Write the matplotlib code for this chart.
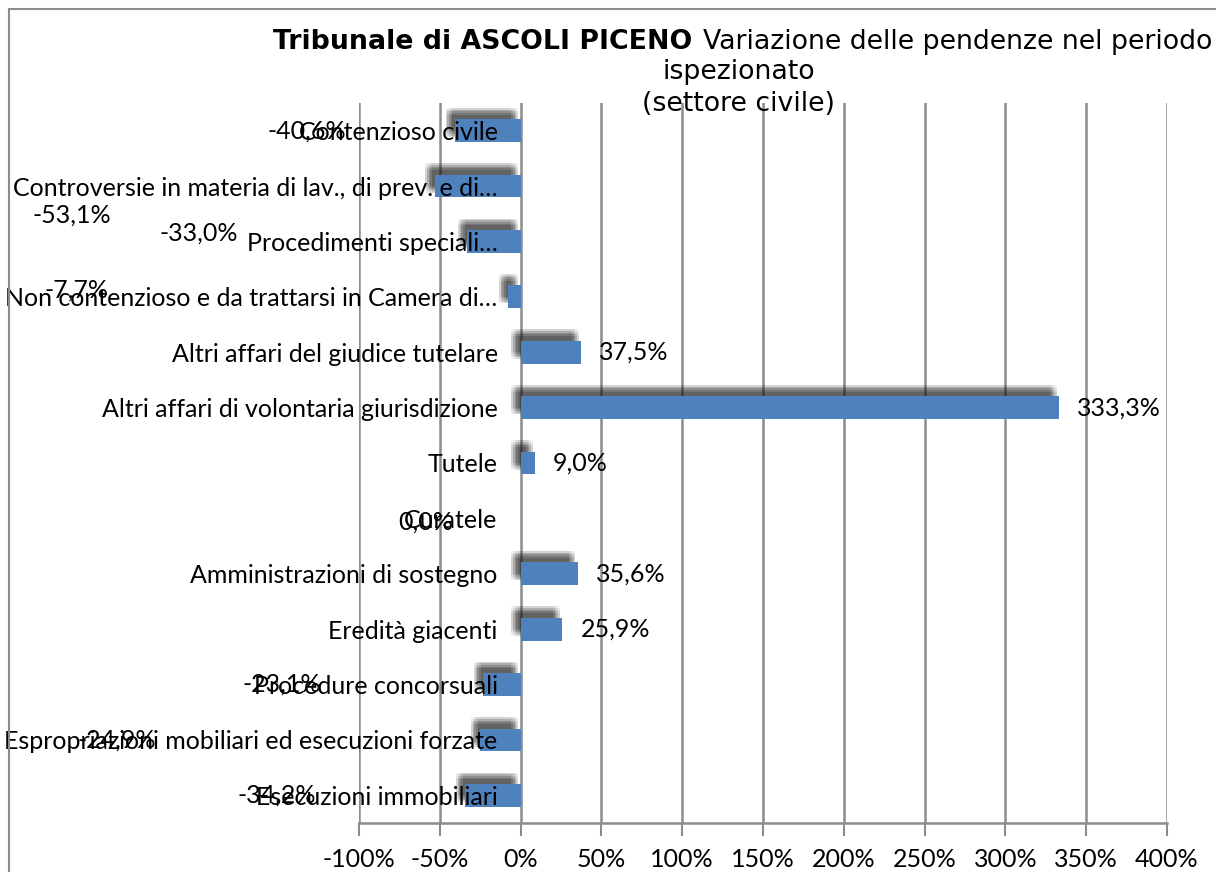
import matplotlib
matplotlib.use("Agg")
from matplotlib import pyplot as plt
from matplotlib import patheffects as pe
from matplotlib.patches import Rectangle
import numpy as np

# data
categories = [
    "Contenzioso civile",
    "Controversie in materia di lav., di prev. e di\u2026",
    "Procedimenti speciali\u2026",
    "Non contenzioso e da trattarsi in Camera di\u2026",
    "Altri affari del giudice tutelare",
    "Altri affari di volontaria giurisdizione",
    "Tutele",
    "Curatele",
    "Amministrazioni di sostegno",
    "Eredità giacenti",
    "Procedure concorsuali",
    "Espropriazioni mobiliari ed esecuzioni forzate",
    "Esecuzioni immobiliari",
]
values = [-40.6, -53.1, -33.0, -7.7, 37.5, 333.3, 9.0, 0.0, 35.6, 25.9, -23.1, -24.9, -34.2]
xticks = [-100, -50, 0, 50, 100, 150, 200, 250, 300, 350, 400]

# manual placement of the labels that were dragged around in the original (x centre in %, row shift)
label_x = {0: -132, 1: -278, 2: -199, 3: -275, 7: -59, 10: -148, 11: -250, 12: -151}
label_dy = {1: 0.52, 2: -0.16, 3: -0.13, 7: 0.07}

body_font = "Lato"
fs = 18
bar_color = "#4F81BD"
grid_color = "#8C8C8C"

fig = plt.figure(figsize=(12.16, 8.72), dpi=100)
ax = fig.add_axes([359 / 1216, 1 - 823 / 872, 808 / 1216, 720 / 872])

# outer chart frame (cropped on right and bottom)
fig.patches.append(Rectangle((9 / 1216, -0.05), 1.2, (872 - 9) / 872 + 0.05,
                             transform=fig.transFigure, fill=False,
                             edgecolor="#8C8C8C", lw=1.5))

y = np.arange(len(categories))
# soft shadow up-left of each bar, faked with a grid of faint offset copies
spread = np.linspace(-2.4, 2.4, 5)
offs = [(-4.3 + dx, 5.8 + dy) for dx in spread for dy in spread]
shadow = [pe.SimplePatchShadow(offset=o, shadow_rgbFace="#202020", alpha=0.045) for o in offs]
bars = ax.barh(y, values, height=0.41, color=bar_color, zorder=3,
               path_effects=shadow + [pe.Normal()])

ax.set_xlim(-100, 400)
ax.set_ylim(len(categories) - 0.5, -0.5)
ax.set_xticks(xticks)
ax.set_xticklabels([f"{t}%" for t in xticks], fontsize=fs, family=body_font)
ax.tick_params(axis="x", length=9, width=1.5, color=grid_color, pad=9)
ax.grid(axis="x", color=grid_color, lw=1.8)
ax.set_axisbelow(True)

ax.spines["left"].set_position(("data", 0))
ax.spines["left"].set_visible(False)
for s in ["top", "right"]:
    ax.spines[s].set_visible(False)
ax.spines["bottom"].set_color(grid_color)
ax.spines["bottom"].set_linewidth(1.8)
ax.set_yticks(y)
ax.set_yticklabels(categories, fontsize=fs, family=body_font)
ax.tick_params(axis="y", length=0, pad=16.5)
ax.yaxis.set_zorder(5)  # category names sit on top of the bars

# data labels
for i, v in enumerate(values):
    txt = f"{v:.1f}%".replace(".", ",")
    if i in label_x:
        ax.text(label_x[i], i + label_dy.get(i, 0), txt, ha="center", va="center",
                fontsize=fs, family=body_font, zorder=6, clip_on=False)
    else:
        ax.annotate(txt, (v, i), xytext=(13, 0), textcoords="offset points",
                    ha="left", va="center", fontsize=fs, family=body_font, zorder=6)

# title with bold first part
tfs = 19.3
fig.text(692 / 1216, 1 - 42 / 872, "Tribunale di ASCOLI PICENO", ha="right", va="center",
         fontsize=tfs, fontweight="bold", family="DejaVu Sans")
fig.text(703 / 1216, 1 - 42 / 872, "Variazione delle pendenze nel periodo", ha="left",
         va="center", fontsize=tfs, family="DejaVu Sans")
fig.text(739 / 1216, 1 - 72 / 872, "ispezionato", ha="center", va="center",
         fontsize=tfs, family="DejaVu Sans")
fig.text(739 / 1216, 1 - 104 / 872, "(settore civile)", ha="center", va="center",
         fontsize=tfs, family="DejaVu Sans")

fig.savefig("out.png", dpi=100)
